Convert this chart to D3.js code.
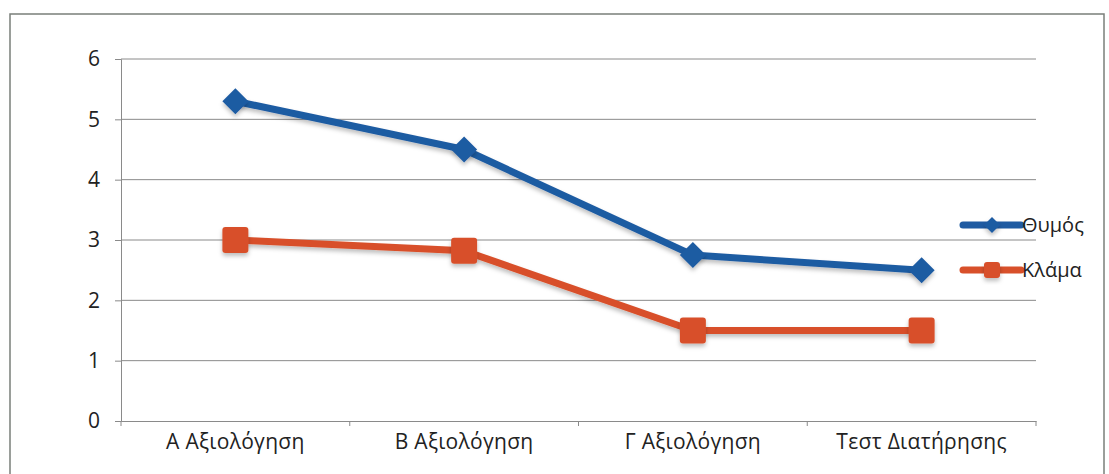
<!DOCTYPE html>
<html>
<head>
<meta charset="utf-8">
<script src="https://cdn.jsdelivr.net/npm/d3@7.9.0/dist/d3.min.js"></script>
<style>
  html, body { margin: 0; padding: 0; background: #fff; }
  svg { display: block; }
</style>
</head>
<body>
<svg width="1109" height="474"></svg>
<script>
// chart data
const categories = ["Α Αξιολόγηση", "Β Αξιολόγηση", "Γ Αξιολόγηση", "Τεστ Διατήρησης"];
const thymos = [5.3, 4.5, 2.75, 2.5];
const klama = [3.0, 2.82, 1.5, 1.5];
const yTicks = [0, 1, 2, 3, 4, 5, 6];

const svg = d3.select("svg");
const width = +svg.attr("width");
const height = +svg.attr("height");
const font = "'Open Sans', 'Noto Sans', sans-serif";
const fontSize = "21px";

const blue = "#1f5ba2";
const red = "#d8502a";

// outer frame
svg.append("rect")
  .attr("x", 10)
  .attr("y", 14)
  .attr("width", width - 15)
  .attr("height", height)
  .attr("fill", "#fff")
  .attr("stroke", "#7a7f7a")
  .attr("stroke-width", 1.5);

const margin = { top: 59, left: 121, right: 73, bottom: 53 };
const plotW = width - margin.left - margin.right;
const plotH = height - margin.top - margin.bottom;

const g = svg.append("g")
  .attr("transform", `translate(${margin.left},${margin.top})`);

const x = d3.scaleBand().domain(categories).range([0, plotW]);
const y = d3.scaleLinear().domain([0, 6]).range([plotH, 0]);

// gridlines
g.selectAll(".grid")
  .data(yTicks.filter(d => d > 0))
  .enter()
  .append("line")
  .attr("x1", 0)
  .attr("x2", plotW)
  .attr("y1", d => y(d))
  .attr("y2", d => y(d))
  .attr("stroke", "#8a8a8a")
  .attr("stroke-width", 1);

// y axis
const yAxis = g.append("g")
  .call(d3.axisLeft(y).tickValues(yTicks).tickFormat(d3.format("d")).tickSize(6).tickPadding(15));
yAxis.select(".domain").attr("stroke", "#8a8a8a");
yAxis.selectAll(".tick line").attr("stroke", "#8a8a8a");
yAxis.selectAll("text")
  .attr("font-family", font)
  .attr("font-size", fontSize)
  .attr("fill", "#222");

// x axis with ticks between categories
const xAxis = g.append("g")
  .attr("transform", `translate(0,${plotH})`)
  .call(d3.axisBottom(x).tickSize(0).tickPadding(13));
xAxis.select(".domain").attr("stroke", "#8a8a8a");
xAxis.selectAll("text")
  .attr("font-family", font)
  .attr("font-size", fontSize)
  .attr("letter-spacing", "0.3px")
  .attr("fill", "#222");
xAxis.selectAll(".sep")
  .data(d3.range(categories.length + 1))
  .enter()
  .append("line")
  .attr("x1", i => i * x.step())
  .attr("x2", i => i * x.step())
  .attr("y1", 0)
  .attr("y2", 5)
  .attr("stroke", "#8a8a8a");

const line = d3.line()
  .x((d, i) => x(categories[i]) + x.bandwidth() / 2)
  .y(d => y(d));

const series = [
  { name: "Θυμός", values: thymos, color: blue, shape: "diamond" },
  { name: "Κλάμα", values: klama, color: red, shape: "square" }
];

// soft shadow
const defs = svg.append("defs");
const f = defs.append("filter").attr("id", "shadow")
  .attr("x", "-30%").attr("y", "-30%").attr("width", "160%").attr("height", "170%");
f.append("feDropShadow")
  .attr("dx", 0).attr("dy", 3).attr("stdDeviation", 2)
  .attr("flood-color", "#000").attr("flood-opacity", 0.25);

function marker(sel, shape, color, cx, cy, s) {
  if (shape === "diamond") {
    sel.append("path")
      .attr("d", `M${cx},${cy - s}L${cx + s},${cy}L${cx},${cy + s}L${cx - s},${cy}Z`)
      .attr("fill", color)
      .attr("filter", "url(#shadow)");
  } else {
    sel.append("rect")
      .attr("x", cx - s)
      .attr("y", cy - s)
      .attr("width", 2 * s)
      .attr("height", 2 * s)
      .attr("rx", 3)
      .attr("fill", color)
      .attr("filter", "url(#shadow)");
  }
}

series.forEach(s => {
  g.append("path")
    .attr("d", line(s.values))
    .attr("fill", "none")
    .attr("stroke", s.color)
    .attr("stroke-width", 7)
    .attr("stroke-linejoin", "round")
    .attr("filter", "url(#shadow)");
  s.values.forEach((v, i) => {
    marker(g, s.shape, s.color, x(categories[i]) + x.bandwidth() / 2, y(v), 13);
  });
});

// legend
const legend = svg.append("g").attr("transform", "translate(963,0)");
series.forEach((s, i) => {
  const ly = 225 + i * 45;
  legend.append("line")
    .attr("x1", 0).attr("x2", 58)
    .attr("y1", ly).attr("y2", ly)
    .attr("stroke", s.color)
    .attr("stroke-width", 7)
    .attr("stroke-linecap", "round");
  marker(legend, s.shape, s.color, 29, ly, 8);
  legend.append("text")
    .attr("x", 59)
    .attr("y", ly + 7)
    .attr("font-family", font)
    .attr("font-size", "20px")
    .attr("fill", "#222")
    .text(s.name);
});
</script>
</body>
</html>
